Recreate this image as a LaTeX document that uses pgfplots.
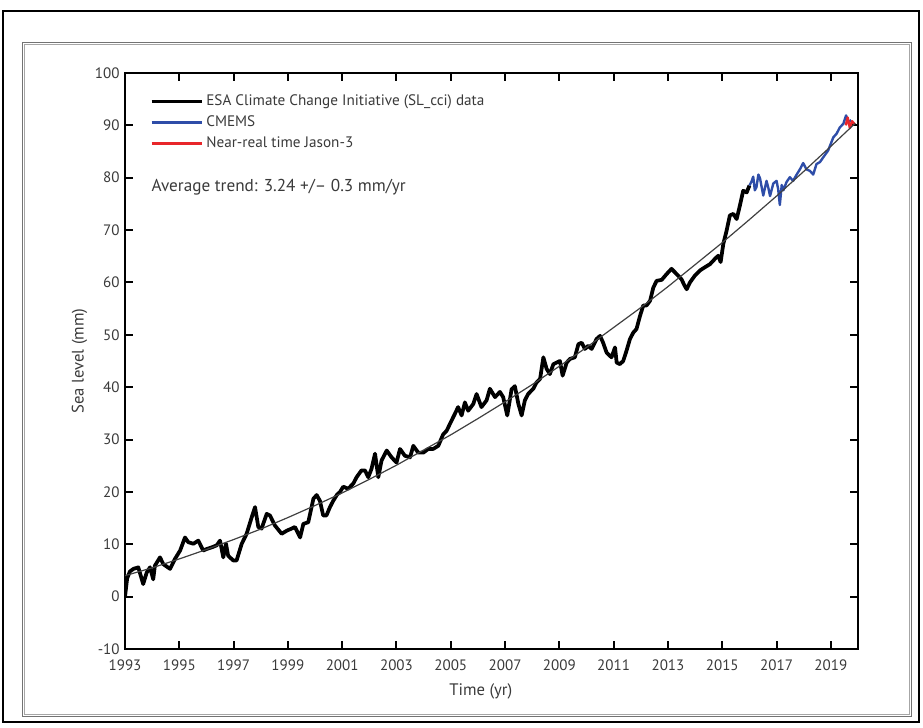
\documentclass[border=0pt]{standalone}
\usepackage{pgfplots}
\pgfplotsset{compat=1.18}
\usepackage{fontspec}
\setmainfont{PT Sans}
\definecolor{cmems}{HTML}{2E4DA8}
\definecolor{nrt}{HTML}{E8262A}
\definecolor{txt}{HTML}{3A3A3A}
\begin{document}
\begin{tikzpicture}[x=0.75pt,y=0.75pt]
\useasboundingbox (0,0) rectangle (923,727);
% frames
\draw[black, line width=0.8pt] (3,5) rectangle (919,716);
\draw[black!55, line width=0.6pt] (22,11) rectangle (911,685);
\draw[black!35, line width=0.6pt] (24,13) rectangle (909,683);
\begin{axis}[
  at={(93.75pt,58.5pt)}, anchor=south west,
  scale only axis, width=549.75pt, height=432pt,
  xmin=1993, xmax=2020, ymin=-10, ymax=100,
  xtick={1993,1995,...,2019}, ytick={-10,0,...,100},
  /pgf/number format/1000 sep={},
  /pgf/number format/assume math mode=true,
  tick label style={font=\fontsize{11.3}{13}\selectfont, text=txt},
  xticklabel style={yshift=-4.5pt},
  yticklabel style={xshift=-0.5pt},
  label style={font=\fontsize{12.5}{14}\selectfont, text=txt},
  xlabel={Time (yr)}, ylabel={Sea level (mm)},
  xlabel style={yshift=-3pt, xshift=-8pt},
  ylabel style={yshift=-1pt},
  axis line style={line width=1.8pt},
  major tick length=6pt,
  tick style={line width=1.5pt, black},
  tick align=inside,
  legend style={at={(0.032,0.969)}, anchor=north west, draw=none, fill=none,
    font=\fontsize{11.4}{12}\selectfont, text=txt, row sep=2pt, inner sep=1pt},
  legend cell align=left,
  legend image code/.code={\draw[#1, line width=2.2pt] (0pt,0pt) -- (38pt,0pt);},
]
\addplot[black, line width=2.8pt, line join=round] coordinates {
(1993.00,0.0)(1993.08,3.5)(1993.18,4.8)(1993.31,5.3)(1993.49,5.6)(1993.67,2.4)
(1993.80,4.6)(1993.92,5.6)(1994.04,3.3)(1994.10,5.9)(1994.29,7.5)(1994.41,6.2)
(1994.66,5.3)(1994.84,7.2)(1995.03,8.8)(1995.21,11.3)(1995.33,10.4)(1995.52,10.1)
(1995.70,10.7)(1995.88,8.8)(1996.01,9.1)(1996.19,9.4)(1996.38,9.8)(1996.50,10.7)
(1996.62,7.5)(1996.72,10.1)(1996.80,7.8)(1996.99,6.9)(1997.11,6.9)(1997.30,10.1)
(1997.48,12.0)(1997.67,15.2)(1997.79,17.1)(1997.91,13.3)(1998.03,13.0)(1998.22,15.8)
(1998.34,15.5)(1998.52,13.6)(1998.77,12.0)(1998.96,12.6)(1999.14,13.0)(1999.26,13.3)
(1999.45,11.3)(1999.57,13.9)(1999.75,14.2)(1999.94,18.7)(2000.06,19.4)(2000.18,18.3)
(2000.30,15.5)(2000.42,15.5)(2000.55,17.1)(2000.67,18.3)(2000.80,19.4)(2000.92,20.0)
(2001.04,21.0)(2001.22,20.6)(2001.41,21.6)(2001.53,22.8)(2001.71,24.1)(2001.84,24.1)
(2001.96,22.8)(2002.08,24.4)(2002.21,27.3)(2002.33,22.8)(2002.45,26.0)(2002.64,27.9)
(2002.82,26.6)(2003.00,25.6)(2003.13,28.2)(2003.31,26.9)(2003.50,26.6)(2003.62,28.8)
(2003.80,27.5)(2003.99,27.5)(2004.17,28.2)(2004.35,28.2)(2004.54,28.8)(2004.72,31.0)
(2004.85,31.7)(2004.97,33.0)(2005.15,34.9)(2005.27,36.2)(2005.40,34.6)(2005.52,37.1)
(2005.64,35.5)(2005.83,36.8)(2005.95,38.7)(2006.13,36.2)(2006.32,37.5)(2006.44,39.7)
(2006.63,38.1)(2006.81,39.1)(2006.93,38.1)(2007.08,34.6)(2007.24,39.6)(2007.36,40.2)
(2007.49,36.8)(2007.61,34.6)(2007.73,37.5)(2007.85,38.7)(2008.04,39.7)(2008.16,40.9)
(2008.29,41.6)(2008.41,45.7)(2008.53,43.5)(2008.65,42.5)(2008.78,44.4)(2008.90,44.7)
(2009.02,45.0)(2009.12,42.2)(2009.27,44.7)(2009.39,45.4)(2009.57,45.7)(2009.70,48.2)
(2009.82,48.5)(2009.94,47.3)(2010.06,47.9)(2010.19,47.3)(2010.37,49.2)(2010.50,49.8)
(2010.61,48.5)(2010.74,46.6)(2010.92,45.7)(2011.05,47.6)(2011.11,44.7)(2011.23,44.4)
(2011.35,45.0)(2011.47,46.9)(2011.60,49.2)(2011.72,50.4)(2011.84,51.1)(2011.97,53.6)
(2012.09,55.6)(2012.21,55.6)(2012.34,56.5)(2012.46,59.0)(2012.58,60.3)(2012.77,60.5)
(2012.95,61.6)(2013.13,62.6)(2013.32,61.6)(2013.50,60.6)(2013.60,59.5)(2013.69,58.7)
(2013.81,60.0)(2013.99,61.3)(2014.18,62.3)(2014.36,62.9)(2014.55,63.5)(2014.73,64.5)
(2014.85,65.1)(2014.94,63.9)(2015.04,67.4)(2015.16,69.9)(2015.28,72.8)(2015.41,73.1)
(2015.53,72.1)(2015.65,74.7)(2015.77,77.5)(2015.90,77.2)(2016.00,78.5)
};
\addlegendentry{ESA Climate Change Initiative (SL\_cci) data}
\addplot[cmems, line width=1.8pt, line join=round] coordinates {
(2016.00,78.5)(2016.08,79.3)(2016.14,80.2)(2016.20,77.6)(2016.26,78.2)(2016.33,80.6)(2016.39,79.9)(2016.51,76.6)
(2016.63,79.4)(2016.70,78.0)(2016.76,76.5)(2016.88,78.9)(2017.00,79.4)(2017.06,77.8)(2017.12,74.8)(2017.19,78.6)(2017.25,77.6)
(2017.37,79.2)(2017.49,80.1)(2017.61,79.4)(2017.74,80.6)(2017.86,81.6)(2017.98,82.8)
(2018.10,81.6)(2018.23,81.3)(2018.35,80.6)(2018.47,82.6)(2018.60,83.0)(2018.72,83.9)
(2018.90,85.2)(2019.09,87.7)(2019.21,88.4)(2019.33,89.6)(2019.46,90.3)(2019.56,91.9)
(2019.64,90.6)(2019.75,91.0)
};
\addlegendentry{CMEMS}
\addplot[nrt, line width=1.8pt, line join=round] coordinates {
(2019.55,90.0)(2019.62,91.5)(2019.70,89.5)(2019.78,90.8)(2019.88,90.2)
};
\addlegendentry{Near-real time Jason-3}
\addplot[black!75, line width=0.9pt, forget plot] coordinates {
(1993,4.0)(1994,5.5)(1995,7.2)(1996,9.0)(1997,10.9)(1998,12.9)(1999,15.1)
(2000,17.4)(2001,19.8)(2002,22.4)(2003,25.1)(2004,28.0)(2005,30.9)(2006,34.0)
(2007,37.2)(2008,40.5)(2009,44.0)(2010,47.6)(2011,51.4)(2012,55.2)(2013,59.2)
(2014,63.4)(2015,67.6)(2016,72.0)(2017,76.5)(2018,81.2)(2019,86.0)(2019.9,90.4)
};
\node[anchor=west, text=txt, font=\fontsize{12.9}{14}\selectfont, inner sep=0pt] at (axis cs:1993.97,78.1) {Average trend: 3.24 +/– 0.3 mm/yr};
\end{axis}
\end{tikzpicture}
\end{document}
